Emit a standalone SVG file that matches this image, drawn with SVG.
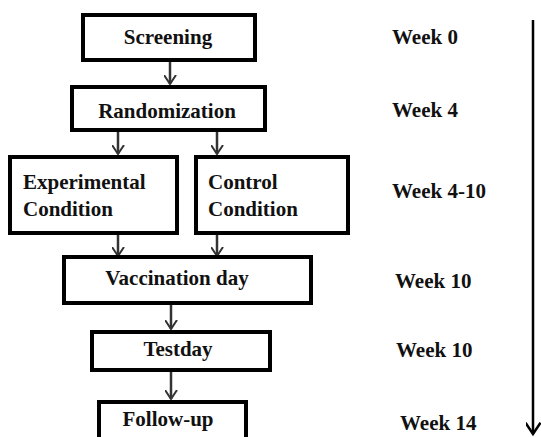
<svg xmlns="http://www.w3.org/2000/svg" width="541" height="437" viewBox="0 0 541 437">
<defs>
<marker id="ah" viewBox="0 0 10 12" refX="9" refY="6" markerWidth="10" markerHeight="13" markerUnits="userSpaceOnUse" orient="auto">
<path d="M0,0 L9,6 L0,12" fill="none" stroke="#333" stroke-width="2"/>
</marker>
<marker id="ah2" viewBox="0 0 10 12" refX="9" refY="6" markerWidth="14" markerHeight="15" markerUnits="userSpaceOnUse" orient="auto">
<path d="M0,0 L9,6 L0,12" fill="none" stroke="#000" stroke-width="2"/>
</marker>
</defs>
<style>
.box{fill:#fff;stroke:#000;stroke-width:4}
.t{font-family:"Liberation Serif","Times New Roman",serif;font-weight:bold;font-size:21px;fill:#111}
.c{stroke:#333;stroke-width:2.5;fill:none;marker-end:url(#ah)}
</style>
<rect width="541" height="437" fill="#fff"/>
<g id="connectors">
<line class="c" x1="170" y1="62" x2="170" y2="84"/>
<line class="c" x1="118" y1="132" x2="118" y2="154"/>
<line class="c" x1="217" y1="132" x2="217" y2="154"/>
<line class="c" x1="118" y1="235" x2="118" y2="256"/>
<line class="c" x1="217" y1="235" x2="217" y2="256"/>
<line class="c" x1="171" y1="305" x2="171" y2="329"/>
<line class="c" x1="171" y1="372" x2="171" y2="399"/>
<line x1="533" y1="20" x2="533" y2="434" stroke="#000" stroke-width="2.5" marker-end="url(#ah2)"/>
</g>
<g id="screening"><rect class="box" x="83" y="15" width="172" height="45"/><text class="t" x="168" y="44" text-anchor="middle">Screening</text></g>
<g id="randomization"><rect class="box" x="72" y="87" width="193" height="43"/><text class="t" x="167" y="118" text-anchor="middle">Randomization</text></g>
<g id="experimental"><rect class="box" x="10" y="157" width="167" height="76"/><text class="t" x="23" y="189">Experimental</text><text class="t" x="23" y="216">Condition</text></g>
<g id="control"><rect class="box" x="196" y="157" width="152" height="76"/><text class="t" x="208" y="189">Control</text><text class="t" x="208" y="216">Condition</text></g>
<g id="vaccination"><rect class="box" x="64" y="257" width="247" height="46"/><text class="t" x="177" y="285" text-anchor="middle">Vaccination day</text></g>
<g id="testday"><rect class="box" x="92" y="332" width="178" height="38"/><text class="t" x="178" y="356" text-anchor="middle">Testday</text></g>
<g id="followup"><rect class="box" x="99" y="402" width="147" height="40"/><text class="t" x="168" y="426" text-anchor="middle">Follow-up</text></g>
<g id="weeks">
<text class="t" x="392" y="44">Week 0</text>
<text class="t" x="392" y="117">Week 4</text>
<text class="t" x="392" y="198">Week 4-10</text>
<text class="t" x="395" y="288">Week 10</text>
<text class="t" x="396" y="357">Week 10</text>
<text class="t" x="400" y="430">Week 14</text>
</g>
</svg>
